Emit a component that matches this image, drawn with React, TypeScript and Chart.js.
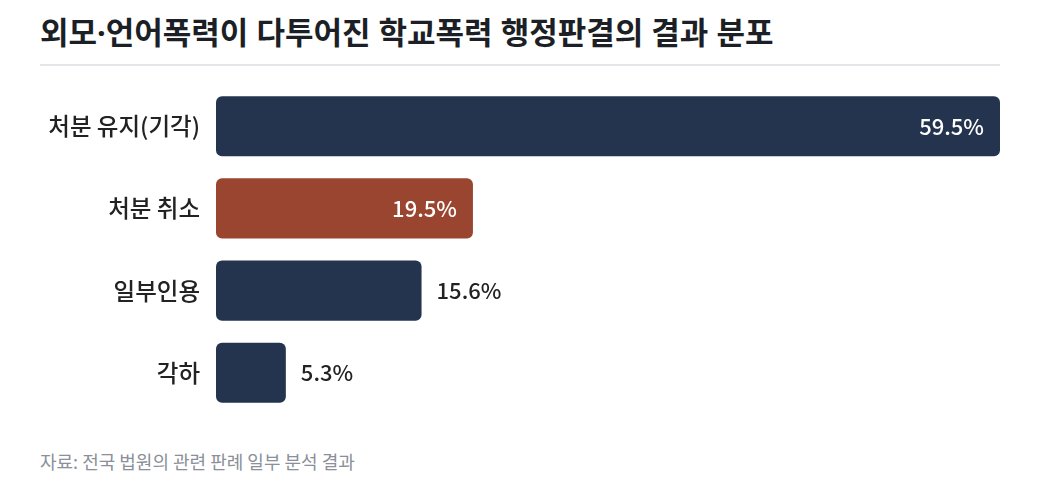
import React, { useEffect, useRef } from "react";
import { Chart, registerables } from "chart.js";

Chart.register(...registerables);

const TITLE = "외모·언어폭력이 다투어진 학교폭력 행정판결의 결과 분포";
const SOURCE = "자료: 전국 법원의 관련 판례 일부 분석 결과";
const categories = ["처분 유지(기각)", "처분 취소", "일부인용", "각하"];
const values = [59.5, 19.5, 15.6, 5.3];
const barColors = ["#24344f", "#9a4530", "#24344f", "#24344f"];
const labelInside = [true, true, false, false];

const FONT = "'Noto Sans CJK KR', 'Noto Sans', sans-serif";
const TITLE_FONT = "'Noto Sans', 'Noto Sans CJK KR', sans-serif";

const valueLabels = {
  id: "valueLabels",
  afterDatasetsDraw(chart: any) {
    const ctx = chart.ctx;
    const meta = chart.getDatasetMeta(0);
    ctx.save();
    ctx.font = `500 22px ${FONT}`;
    ctx.textBaseline = "middle";
    meta.data.forEach((bar: any, i: number) => {
      const text = values[i].toFixed(1) + "%";
      if (labelInside[i]) {
        ctx.fillStyle = "#ffffff";
        ctx.textAlign = "right";
        ctx.fillText(text, bar.x - 16, bar.y);
      } else {
        ctx.fillStyle = "#222222";
        ctx.textAlign = "left";
        ctx.fillText(text, bar.x + 15, bar.y);
      }
    });
    ctx.restore();
  },
};

export default function App() {
  const ref = useRef<HTMLCanvasElement>(null);
  useEffect(() => {
    if (!ref.current) return;
    const chart = new Chart(ref.current, {
      type: "bar",
      data: {
        labels: categories,
        datasets: [
          {
            data: values,
            backgroundColor: barColors,
            borderRadius: 6,
            borderSkipped: false,
            barPercentage: 1,
            categoryPercentage: 60 / 82,
          },
        ],
      },
      options: {
        indexAxis: "y",
        animation: false,
        responsive: false,
        maintainAspectRatio: false,
        layout: { padding: { top: 10, bottom: 12.5, left: 0, right: 40 } },
        plugins: { legend: { display: false }, tooltip: { enabled: false }, title: { display: false } },
        scales: {
          x: { display: false, min: 0, max: 59.5 },
          y: {
            border: { display: false },
            grid: { display: false, drawTicks: false },
            ticks: {
              padding: 16,
              color: "#222222",
              font: { family: FONT, size: 23.5, weight: 500 },
            },
            afterFit(scale: any) {
              scale.width = 216;
            },
          },
        },
      },
      plugins: [valueLabels],
    });
    return () => chart.destroy();
  }, []);

  return (
    <div style={{ position: "absolute", left: 0, top: 0, width: 1040, height: 495, background: "#fff", fontFamily: FONT }}>
      <div
        style={{
          position: "absolute",
          left: 40,
          top: 17,
          fontFamily: TITLE_FONT,
          fontSize: 31,
          lineHeight: "31px",
          fontWeight: 700,
          color: "#1c1f26",
          whiteSpace: "nowrap",
        }}
      >
        {TITLE}
      </div>
      <div style={{ position: "absolute", left: 40, top: 64, width: 960, height: 2, background: "#e5e6ea" }} />
      <canvas ref={ref} width={1040} height={389} style={{ position: "absolute", left: 0, top: 55, width: 1040, height: 389 }} />
      <div
        style={{
          position: "absolute",
          left: 40,
          top: 452,
          fontSize: 18,
          lineHeight: "18px",
          color: "#8a8f99",
          whiteSpace: "nowrap",
        }}
      >
        {SOURCE}
      </div>
    </div>
  );
}
